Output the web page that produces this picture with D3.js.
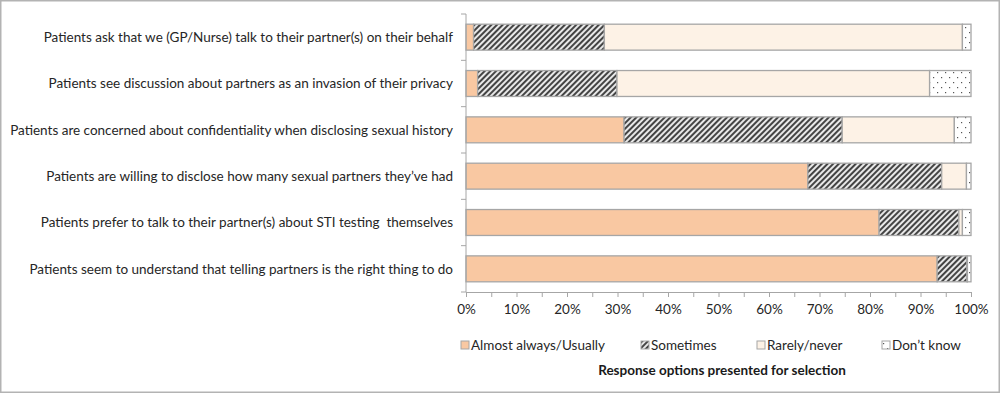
<!DOCTYPE html>
<html>
<head>
<meta charset="utf-8">
<script src="https://cdn.jsdelivr.net/npm/d3@7"></script>
<style>
  body { margin: 0; background: #fff; }
  svg { display: block; font-family: Lato, "Open Sans", sans-serif; }
  text { white-space: pre; }
</style>
</head>
<body>
<svg id="chart"></svg>
<script>
const statements = [
  "Patients ask that we (GP/Nurse) talk to their partner(s) on their behalf",
  "Patients see discussion about partners as an invasion of their privacy",
  "Patients are concerned about confidentiality when disclosing sexual history",
  "Patients are willing to disclose how many sexual partners they\u2019ve had",
  "Patients prefer to talk to their partner(s) about STI testing  themselves",
  "Patients seem to understand that telling partners is the right thing to do"
];
const responses = ["Almost always/Usually", "Sometimes", "Rarely/never", "Don\u2019t know"];
const almostAlways = [1.5, 2.3, 31.3, 67.7, 81.8, 93.3];
const sometimes = [25.9, 27.6, 43.2, 26.5, 15.8, 5.9];
const rarely = [70.9, 61.9, 22.2, 4.9, 0.7, 0.1];
const dontKnow = [1.7, 8.2, 3.3, 0.9, 1.7, 0.7];
const xTicks = [0, 10, 20, 30, 40, 50, 60, 70, 80, 90, 100];
const axisTitle = "Response options presented for selection";

const W = 1000, H = 393;
const margin = { top: 14, left: 466, right: 29, bottom: 101 };

const svg = d3.select("#chart").attr("width", W).attr("height", H);

// outer frame
svg.append("rect")
  .attr("x", 0.75).attr("y", 0.75)
  .attr("width", W - 1.5).attr("height", H - 1.5)
  .attr("fill", "#fff").attr("stroke", "#b3b3b3").attr("stroke-width", 1.5);

const defs = svg.append("defs");
const hatch = defs.append("pattern")
  .attr("id", "hatch").attr("patternUnits", "userSpaceOnUse")
  .attr("width", 4).attr("height", 4)
  .attr("patternTransform", "rotate(45)");
hatch.append("rect").attr("width", 4).attr("height", 4).attr("fill", "#e8e8e8");
hatch.append("rect").attr("width", 2).attr("height", 4).attr("fill", "#444");

const dots = defs.append("pattern")
  .attr("id", "dots").attr("patternUnits", "userSpaceOnUse")
  .attr("width", 8).attr("height", 10);
dots.append("rect").attr("width", 8).attr("height", 10).attr("fill", "#fff");
dots.append("rect").attr("x", 1).attr("y", 2).attr("width", 1.2).attr("height", 1.2).attr("fill", "#555");
dots.append("rect").attr("x", 5).attr("y", 7).attr("width", 1.2).attr("height", 1.2).attr("fill", "#555");

const fills = ["#f9c8a2", "url(#hatch)", "#fdf2e6", "url(#dots)"];

const rows = statements.map((s, i) => ({
  name: s,
  [responses[0]]: almostAlways[i],
  [responses[1]]: sometimes[i],
  [responses[2]]: rarely[i],
  [responses[3]]: dontKnow[i]
}));
// normalise each row to 100%
rows.forEach((r) => {
  const t = d3.sum(responses, (k) => r[k]);
  responses.forEach((k) => (r[k] = (r[k] / t) * 100));
});

const stack = d3.stack().keys(responses)(rows);

const x = d3.scaleLinear().domain([0, 100]).range([margin.left, W - margin.right]);
const y = d3.scaleBand().domain(statements)
  .range([margin.top, H - margin.bottom]).paddingInner(0.44).paddingOuter(0.22);

const layer = svg.append("g").selectAll("g")
  .data(stack).join("g")
  .attr("fill", (d, i) => fills[i]);

layer.selectAll("rect")
  .data((d) => d)
  .join("rect")
  .attr("x", (d) => x(d[0]))
  .attr("y", (d) => y(d.data.name))
  .attr("width", (d) => x(d[1]) - x(d[0]))
  .attr("height", y.bandwidth())
  .attr("stroke", "#a6a6a6")
  .attr("stroke-width", 1.3);

// y axis
const yAxis = svg.append("g").attr("transform", `translate(${margin.left},0)`);
yAxis.append("line")
  .attr("y1", margin.top).attr("y2", H - margin.bottom)
  .attr("stroke", "#a6a6a6");
const bounds = d3.range(statements.length + 1).map((i) => margin.top + i * y.step());
yAxis.selectAll(".yt").data(bounds).join("line")
  .attr("x1", -5).attr("x2", 0)
  .attr("y1", (d) => d).attr("y2", (d) => d)
  .attr("stroke", "#a6a6a6");
yAxis.selectAll("text").data(statements).join("text")
  .attr("x", -13)
  .attr("y", (d) => y(d) + y.bandwidth() / 2)
  .attr("dy", "0.35em")
  .attr("text-anchor", "end")
  .attr("font-size", 13.5)
  .attr("fill", "#262626")
  .text((d) => d);

// x axis
const xAxis = svg.append("g")
  .attr("transform", `translate(0,${H - margin.bottom})`)
  .call(d3.axisBottom(x).tickValues(d3.range(0, 101, 5)).tickSize(5)
    .tickFormat((d) => (xTicks.includes(d) ? d + "%" : "")));
xAxis.select(".domain").attr("stroke", "#a6a6a6");
xAxis.selectAll(".tick line").attr("stroke", "#a6a6a6");
xAxis.selectAll(".tick text")
  .attr("y", 12).attr("font-size", 13.5).attr("fill", "#262626")
  .attr("font-family", "Lato, 'Open Sans', sans-serif");

// legend
const legendX = [461, 641, 757, 882];
const legend = svg.append("g").selectAll("g")
  .data(responses).join("g")
  .attr("transform", (d, i) => `translate(${legendX[i]},341)`);
legend.append("rect")
  .attr("width", 8).attr("height", 8)
  .attr("fill", (d, i) => fills[i])
  .attr("stroke", "#a6a6a6").attr("stroke-width", 1);
legend.append("text")
  .attr("x", 10).attr("y", 4).attr("dy", "0.35em")
  .attr("font-size", 13.5).attr("fill", "#262626")
  .text((d) => d);

svg.append("text")
  .attr("x", 722).attr("y", 370).attr("dy", "0.35em")
  .attr("text-anchor", "middle")
  .attr("font-size", 13.5).attr("font-weight", "bold").attr("fill", "#1a1a1a")
  .text(axisTitle);
</script>
</body>
</html>
